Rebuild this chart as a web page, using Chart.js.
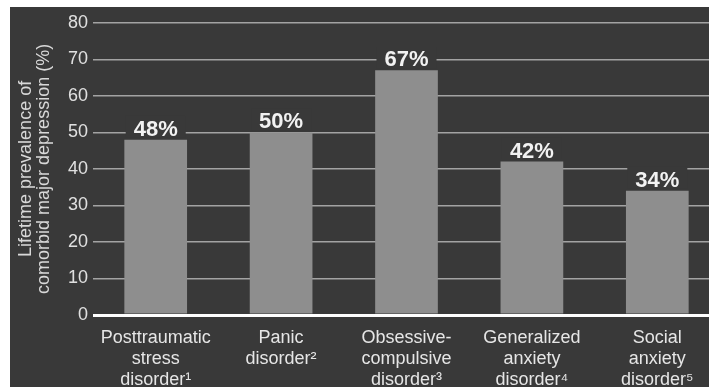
<!DOCTYPE html>
<html>
<head>
<meta charset="utf-8">
<script src="https://cdn.jsdelivr.net/npm/chart.js@4.4.1/dist/chart.umd.min.js"></script>
<style>
  html, body { margin: 0; padding: 0; background: #ffffff; overflow: hidden; }
  #wrap { position: absolute; left: 10px; top: 7px; width: 720px; height: 380px; background: #393939; }
</style>
</head>
<body>
<div id="wrap"><canvas id="chart" width="720" height="380"></canvas></div>
<script>
// ------- Data -------
const categories = [
  ['Posttraumatic', 'stress', 'disorder¹'],
  ['Panic', 'disorder²'],
  ['Obsessive-', 'compulsive', 'disorder³'],
  ['Generalized', 'anxiety', 'disorder⁴'],
  ['Social', 'anxiety', 'disorder⁵']
];
const prevalence = [48, 50, 67, 42, 34];
const yTitle = ['Lifetime prevalence of', 'comorbid major depression (%)'];
const yMin = 0, yMax = 80, yStep = 10;

const BG = '#393939';
const FONT = '"Liberation Sans", Arial, sans-serif';

// value labels with a background box that cuts the grid lines
const valueLabels = {
  id: 'valueLabels',
  afterDatasetsDraw(chart) {
    const ctx = chart.ctx;
    const meta = chart.getDatasetMeta(0);
    ctx.save();
    ctx.font = 'bold 22px ' + FONT;
    ctx.textAlign = 'center';
    ctx.textBaseline = 'alphabetic';
    meta.data.forEach((bar, i) => {
      const txt = prevalence[i] + '%';
      const w = ctx.measureText(txt).width;
      const base = bar.y - 4;
      ctx.fillStyle = BG;
      ctx.fillRect(bar.x - w / 2 - 8, base - 20, w + 16, 22);
      ctx.fillStyle = '#f2f2f2';
      ctx.fillText(txt, bar.x, base);
    });
    ctx.restore();
  }
};

new Chart(document.getElementById('chart'), {
  type: 'bar',
  data: {
    labels: categories,
    datasets: [{
      data: prevalence,
      backgroundColor: '#8e8e8e',
      barPercentage: 0.5,
      categoryPercentage: 1
    }]
  },
  options: {
    responsive: false,
    animation: false,
    layout: { padding: { top: 15, right: 10, left: 0, bottom: 0 } },
    plugins: { legend: { display: false }, tooltip: { enabled: false } },
    scales: {
      x: {
        grid: { display: false, drawTicks: false },
        border: { display: false },
        ticks: {
          color: '#e6e6e6',
          font: { family: FONT, size: 18, lineHeight: 1.18 },
          padding: 12,
          maxRotation: 0,
          autoSkip: false
        },
        afterFit(scale) { scale.height = 72; }
      },
      y: {
        min: yMin,
        max: yMax,
        border: { display: false },
        grid: {
          drawTicks: false,
          color: c => c.tick.value === 0 ? '#ffffff' : '#a3a3a3',
          lineWidth: c => c.tick.value === 0 ? 3 : 1.6
        },
        ticks: {
          stepSize: yStep,
          color: '#e0e0e0',
          font: { family: FONT, size: 18 },
          padding: 5
        },
        title: {
          display: true,
          text: yTitle,
          color: '#d8d8d8',
          font: { family: FONT, size: 18, lineHeight: 1.0 },
          padding: { top: 7, bottom: 0 }
        },
        afterFit(scale) { scale.width = 83; }
      }
    }
  },
  plugins: [valueLabels]
});
</script>
</body>
</html>
